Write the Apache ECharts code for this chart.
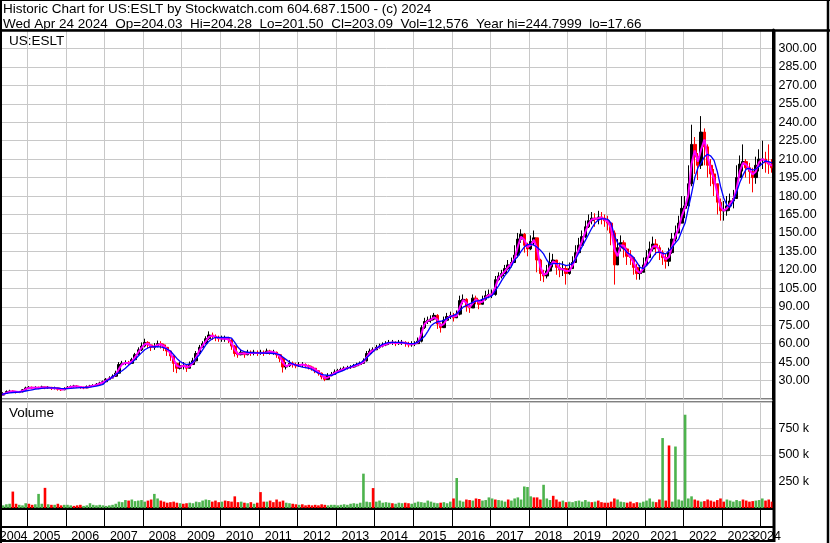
<!DOCTYPE html>
<html>
<head>
<meta charset="utf-8">
<script src="https://cdn.jsdelivr.net/npm/echarts@6/dist/echarts.min.js"></script>
<style>
  html, body { margin: 0; padding: 0; background: #fff; }
  #chart { width: 830px; height: 543px; }
</style>
</head>
<body>
<div id="chart"></div>
<script>
// monthly bars, Apr 2004 .. Apr 2024
const startYear = 2004;
const startMonth = 3; // April
const firstOpen = 17.9;

const closes = [
  18.2, 19.5, 21, 21.5, 21, 20.5, 20.8, 22.5, 24,
  24.5, 24, 24.5, 24, 24.8, 24, 24.5, 23.5, 24, 23, 22.5, 23.5,
  24.5, 25, 25.5, 25, 24.5, 24, 25, 25.5, 26, 27, 28, 29,
  31, 32, 33.5, 36, 43, 44, 44.5, 44, 47, 51, 55, 58,
  61, 59, 57, 58, 60, 59, 57, 54, 50, 44, 40, 42,
  42, 40, 43, 46, 52, 57, 60, 64, 67, 66, 65, 64,
  64, 64, 63, 58, 52, 51, 53, 51, 53, 52, 53, 52,
  53, 52, 54, 53, 53, 51, 48, 41, 42, 44, 43, 42,
  43, 43, 42, 41, 40, 38, 36, 33, 31, 34, 35, 37,
  38, 39, 40, 40.5, 41, 42, 43, 44, 46, 52, 54, 55,
  57, 58, 59, 60, 61, 61, 60, 61, 61, 60, 59, 60,
  60, 62, 73, 78, 79, 80, 83, 76, 73, 79, 82, 83,
  81, 84, 95, 96, 90, 89, 97, 95, 92, 96, 99, 100,
  100, 112, 115, 117, 121, 124, 126, 132, 145, 149, 140, 137,
  143, 146, 128, 117, 115, 119, 126, 128, 122, 120, 121, 117,
  121, 126, 134, 140, 147, 155, 160, 162, 161, 163, 162, 160,
  158, 150, 124, 138, 142, 137, 131, 130, 122, 117, 118, 124,
  130, 137, 141, 138, 134, 130, 127, 134, 145, 150, 158, 170,
  172, 190, 222, 212, 205, 232, 220, 205, 198, 190, 175, 168,
  168, 172, 176, 178, 195, 206, 208, 203, 200, 195, 205, 210,
  210, 207, 206, 203
];

const lows = [
  17.7, 18, 19.5, 20.5, 20, 19.5, 19.8, 20.5, 22,
  23, 23, 23.2, 23, 23.5, 23, 23.2, 22.3, 22.8, 21.8, 21.5, 22.2,
  23.2, 24, 24.3, 24, 23.3, 23, 23.8, 24.5, 25, 25.8, 26.8, 27.8,
  29, 30.5, 32, 33, 35.5, 42, 42.5, 42, 44, 47.5, 51, 54,
  57, 56, 54, 55, 57, 56, 54, 50, 46, 37, 36, 39,
  39, 37, 40, 43, 45.5, 51, 57, 61, 63, 63, 62, 61.5,
  61.5, 61.5, 60.5, 55, 49.5, 48.5, 50.5, 48.5, 50.5, 50, 50.5, 50,
  51, 50, 51.5, 51, 51, 48.5, 45, 36.5, 39, 41, 40.5, 40,
  41, 41, 40, 39, 38, 36, 34, 31, 29.5, 32, 33.5, 35,
  36.5, 37.5, 38.5, 39, 39.5, 40.5, 41.5, 42.5, 44, 45.5, 52, 53,
  55, 56, 57, 58, 59, 59, 58, 59, 59, 57.5, 57, 57.5,
  58, 60, 61, 72, 76, 77, 79, 72, 69, 75, 79, 80,
  78, 81, 83, 92, 86, 85, 92, 92, 88, 92, 95, 97,
  97, 99, 111, 113, 117, 120, 122, 127, 130, 142, 134, 131,
  136, 140, 118, 111, 110, 113, 120, 122, 116, 114, 115, 108,
  116, 121, 128, 134, 140, 146, 154, 157, 155, 157, 157, 155,
  152, 140, 108, 125, 135, 130, 124, 124, 116, 112, 112, 118,
  123, 130, 135, 132, 128, 124, 121, 123, 133, 143, 150, 158,
  162, 170, 188, 198, 193, 202, 205, 195, 188, 180, 165, 160,
  160, 164, 168, 170, 178, 195, 200, 195, 190, 183, 190, 200,
  202, 199, 198, 199
];

const highs = [
  19, 20.5, 22, 22.5, 22, 21.5, 21.5, 23, 25,
  25.5, 25.2, 25.3, 25, 25.8, 25, 25.5, 24.8, 25, 24.2, 23.5, 24.5,
  25.5, 26, 26.5, 26.2, 25.5, 25, 26, 26.5, 27, 28, 29, 30,
  32, 33.5, 35, 38, 45, 46, 46.5, 46, 48.5, 52.5, 57, 61,
  64, 62, 59.5, 60.5, 62.5, 62, 60, 57, 53, 50, 44.5, 45,
  45, 43, 45.5, 48.5, 54, 59, 62, 66, 70, 69, 67.5, 66.5,
  66.5, 66.5, 65.5, 64, 59, 53.5, 55, 53.5, 55, 54.5, 55, 54.5,
  55, 54.5, 56, 55, 55, 53.5, 51, 49, 45, 46.5, 45.5, 44.5,
  45, 45, 44, 43, 42, 40, 38, 36.5, 33, 36, 37, 39,
  39.5, 40.5, 41.5, 42, 42.5, 43.5, 44.5, 45.5, 48, 54, 56, 57,
  59, 60, 61, 62, 63, 63, 62, 63, 63, 62, 61.5, 62,
  62, 65, 75, 81, 82, 83, 85, 84, 77, 82, 85, 86,
  85, 87, 99, 100, 97, 92, 100, 99, 96, 99, 103, 104,
  104, 115, 118, 120, 124, 128, 130, 140, 150, 153, 150, 142,
  148, 152, 146, 129, 120, 124, 134, 133, 128, 126, 127, 124,
  126, 131, 140, 146, 152, 160, 165, 167, 166, 168, 167, 165,
  164, 158, 152, 145, 148, 144, 138, 136, 130, 125, 124, 130,
  136, 143, 147, 145, 140, 136, 133, 138, 150, 156, 164, 180,
  180, 205, 238, 228, 215, 245, 235, 222, 210, 202, 190, 178,
  176, 180, 182, 185, 205, 213, 222, 210, 207, 203, 212, 218,
  225, 216, 222, 210
];

// short (magenta) and long (blue) moving averages as drawn
const maShort = [
  18, 18.8, 20, 21, 21.2, 21, 20.7, 21.5, 23,
  24, 24.2, 24.2, 24.2, 24.4, 24.4, 24.3, 24, 23.8, 23.5, 22.8, 23,
  24, 24.7, 25.2, 25.2, 24.8, 24.3, 24.5, 25.2, 25.7, 26.5, 27.5, 28.5,
  30, 31.5, 32.7, 34.7, 39.5, 43.5, 44.2, 44.2, 45.5, 49, 53, 56.5,
  59.5, 60, 58, 57.5, 59, 59.5, 58, 55.5, 52, 47, 42, 41,
  42, 41, 41.5, 44.5, 49, 54.5, 58.5, 62, 65.5, 66.5, 65.5, 64.5,
  64, 64, 63.5, 60.5, 55, 51.5, 52, 52, 52, 52.5, 52.5, 52.5,
  52.5, 52.5, 53, 53.5, 53, 52, 49.5, 44.5, 41.5, 43, 43.5, 42.5,
  42.5, 43, 42.5, 41.5, 40.5, 39, 37, 34.5, 32, 32.5, 34.5, 36,
  37.5, 38.5, 39.5, 40.2, 40.7, 41.5, 42.5, 43.5, 45, 49, 53, 54.5,
  56, 57.5, 58.5, 59.5, 60.5, 61, 60.5, 60.5, 61, 60.5, 59.5, 59.5,
  60, 61, 68, 76, 78.5, 79.5, 81.5, 79.5, 74.5, 76, 80.5, 82.5,
  82, 82.5, 90, 95.5, 93, 89.5, 93, 96, 93.5, 94, 97.5, 99.5,
  100, 106, 113.5, 116, 119, 122.5, 125, 129, 139, 147, 144.5, 138.5,
  140, 144.5, 137, 122.5, 116, 117, 122.5, 127, 125, 121, 120.5, 119,
  119, 123.5, 130, 137, 143.5, 151, 157.5, 161, 161.5, 162, 162.5, 161,
  159, 154, 137, 131, 140, 139.5, 134, 130.5, 126, 119.5, 117.5, 121,
  127, 133.5, 139, 139.5, 136, 132, 128.5, 130.5, 139.5, 147.5, 154, 164,
  171, 181, 206, 217, 208, 218, 226, 212, 201.5, 194, 182.5, 171.5,
  168, 170, 174, 177, 186, 200, 207, 205.5, 201.5, 197.5, 200, 207.5,
  210, 208.5, 206.5, 204.5
];

const maLong = [
  18.5, 19, 19.5, 20, 20.3, 20.5, 20.7, 21, 21.5,
  22, 22.5, 23, 23.3, 23.6, 23.8, 24, 24, 24, 23.8, 23.6, 23.5,
  23.5, 23.6, 23.8, 24, 24.2, 24.3, 24.5, 24.7, 25, 25.5, 26, 26.8,
  29.5, 31, 33, 35, 36.5, 38, 40, 42.5, 44.5, 47, 50, 52.5,
  55, 56.5, 57.3, 57.5, 57.5, 57.3, 56.5, 55.5, 54, 51, 48, 45.5,
  44, 43, 43.5, 45, 48, 51, 55, 59, 62, 64, 65, 65,
  65, 65, 65, 64.5, 61, 57, 54.5, 53.5, 53, 52.8, 52.6, 52.5,
  52.4, 52.4, 52.3, 52.2, 52, 51.7, 51, 49, 47, 45, 43.5, 42.5,
  41.7, 41, 40.5, 40, 39, 37.5, 36, 35, 34.5, 34.2, 34.3, 35,
  36.5, 37.5, 38.5, 40, 41, 42.3, 43.3, 44.3, 46, 48.5, 51, 53.5,
  56, 58, 59.5, 60.5, 60.8, 61, 61, 61, 60.8, 60.5, 60.2, 60,
  60.2, 61.5, 63.5, 66, 70, 74.5, 76.5, 77.8, 78.2, 79, 80.5, 81.7,
  83, 84.3, 87, 89.7, 91, 92.3, 93.5, 94.5, 95, 96, 97, 97.7,
  99, 103, 107, 111.5, 115.5, 118.5, 123, 128, 131, 135, 138.5, 140.5,
  141, 140, 138.4, 136, 133, 128, 124.5, 125, 125, 125, 124.5, 123.5,
  124, 125, 129, 134, 139, 144, 149, 154, 158, 160.5, 161.4, 161.5,
  161, 158, 148, 142, 139, 137, 134, 132.5, 130, 126, 122, 121,
  123.5, 126.5, 130.5, 134, 134.5, 133.5, 133, 135.5, 138.4, 142, 145, 152,
  158, 170, 182, 195, 203, 207, 212, 214, 212.5, 209, 200, 188,
  178.5, 172.5, 171, 176, 183, 191, 197, 202, 202.5, 201, 202, 204,
  206.5, 208.5, 208, 207
];

// volume in thousands, and direction of each bar (g = up, r = down)
const volumes = [
  30, 25, 35, 40, 155, 40, 30, 25, 45,
  40, 30, 35, 133, 40, 190, 35, 30, 30, 40, 25, 30,
  30, 25, 20, 25, 30, 20, 25, 45, 30, 25, 30, 25,
  20, 25, 30, 40, 60, 55, 75, 70, 80, 65, 70, 75,
  60, 70, 80, 133, 90, 70, 60, 50, 55, 60, 50, 45,
  40, 45, 50, 45, 60, 55, 70, 80, 75, 60, 70, 55,
  60, 70, 65, 60, 110, 55, 60, 50, 45, 55, 40, 50,
  150, 60, 60, 70, 55, 80, 60, 70, 50, 45, 40, 35,
  30, 35, 25, 30, 25, 30, 25, 35, 30, 25, 30, 30,
  25, 30, 35, 30, 40, 45, 40, 50, 324, 60, 55, 188,
  60, 70, 50, 55, 50, 45, 40, 50, 45, 50, 45, 40,
  50, 60, 55, 50, 70, 60, 50, 45, 50, 55, 45, 60,
  90, 283, 70, 60, 80, 75, 70, 90, 85, 70, 75, 100,
  90, 80, 75, 70, 60, 80, 70, 90, 100, 80, 203, 198,
  110, 100, 100, 80, 219, 90, 75, 115, 80, 60, 70, 55,
  60, 55, 65, 70, 60, 75, 60, 55, 60, 70, 55, 50,
  50, 60, 90, 80, 60, 55, 50, 60, 45, 55, 50, 60,
  70, 90, 60, 55, 80, 660, 70, 590, 60, 580, 80, 70,
  880, 90, 110, 80, 70, 60, 65, 80, 70, 60, 75, 90,
  60, 80, 70, 60, 75, 65, 80, 70, 60, 65, 70, 75,
  90, 70, 80, 60
];

const volDir = [
  'ggggrrggg',
  'rrgggrgrgrrg',
  'ggrrrggggggg',
  'gggggggrgggg',
  'grrggrrrrrrg',
  'rrgggggggrrr',
  'grrrrrgrgrgr',
  'rrgrrrrrggrr',
  'grrrrrrrrggg',
  'gggggggggggr',
  'gggggrgggrrg',
  'ggggggggrggg',
  'rgggrrgrrggg',
  'grgggrgggggg',
  'grrrgggrrrgr',
  'gggggggrgrrr',
  'rrrgggrrrrgg',
  'gggrrgrrgggg',
  'gggrrgrrrrrr',
  'rgggggrrrrgg',
  'grrr'
].join('');

const headerLine1 = 'Historic Chart for US:ESLT by Stockwatch.com 604.687.1500 - (c) 2024';
const headerLine2 = 'Wed Apr 24 2024  Op=204.03  Hi=204.28  Lo=201.50  Cl=203.09  Vol=12,576  Year hi=244.7999  lo=17.66';

// x axis in decimal years
const xMin = 2004, xMax = 2024.33;
const gridLeft = -11.3, pxPerYear = 38.6;
const gridWidth = (xMax - xMin) * pxPerYear;
const visLeft = xMin - gridLeft / pxPerYear;

const n = Math.min(closes.length, lows.length, highs.length, maShort.length, maLong.length, volumes.length);
const xs = [];
for (let i = 0; i < n; i++) xs.push(startYear + (startMonth + i + 0.5) / 12);

const candles = xs.map((x, i) => [x, i ? closes[i - 1] : firstOpen, closes[i], lows[i], highs[i]]);
const shortLine = xs.map((x, i) => [x, maShort[i]]);
const longLine = xs.map((x, i) => [x, maLong[i]]);
const volBars = xs.map((x, i) => ({
  value: [x, volumes[i]],
  itemStyle: { color: volDir[i] === 'r' ? '#ff0000' : '#4db34d' }
}));

// year labels centred in the visible part of each year
const yearLabelPos = [];
for (let y = 2004; y <= 2024; y++) {
  const a = Math.max(y, visLeft), b = Math.min(y + 1, xMax);
  yearLabelPos.push((a + b) / 2);
}
// the last (partial) year overlaps its neighbour, so it gets its own axis
const lastYearPos = yearLabelPos.slice(-1);
const otherYearPos = yearLabelPos.slice(0, -1);

const font = "'Liberation Sans', Arial, sans-serif";
const txt = { fontFamily: font, fontSize: 13.5, fontWeight: 'normal', color: '#000', lineHeight: 15 };
const grey = { color: '#c8c8c8', width: 1 };

function yearAxis(positions, withLine) {
  return {
    gridIndex: 1, type: 'value', min: xMin, max: xMax, position: 'bottom', offset: 19,
    axisTick: { show: false }, splitLine: { show: false },
    axisLine: { show: withLine, onZero: false, lineStyle: { color: '#000', width: 2 } },
    axisLabel: { customValues: positions, margin: 3, color: '#000', fontSize: 12.5, fontFamily: font,
      hideOverlap: false, formatter: v => String(Math.floor(v + 1e-6)) }
  };
}

const chart = echarts.init(document.getElementById('chart'));
chart.setOption({
  animation: false,
  backgroundColor: '#fff',
  textStyle: { fontFamily: font },
  title: [
    { text: headerLine1, subtext: headerLine2, left: 3, top: 2, padding: 0, itemGap: 0,
      textStyle: txt, subtextStyle: txt },
    { text: 'US:ESLT', left: 9, top: 34, padding: 0, textStyle: txt },
    { text: 'Volume', left: 9, top: 406, padding: 0, textStyle: txt }
  ],
  grid: [
    { left: gridLeft, top: 30, width: gridWidth, height: 369, show: true, borderColor: '#000', borderWidth: 1,
      containLabel: false, outerBoundsMode: 'none' },
    { left: gridLeft, top: 402, width: gridWidth, height: 106, show: true, borderColor: '#000', borderWidth: 1,
      containLabel: false, outerBoundsMode: 'none' }
  ],
  xAxis: [
    { gridIndex: 0, type: 'value', min: xMin, max: xMax, interval: 1,
      axisLabel: { show: false }, axisTick: { show: false }, axisLine: { show: false },
      splitLine: { show: true, lineStyle: grey } },
    { gridIndex: 1, type: 'value', min: xMin, max: xMax, interval: 1, position: 'bottom',
      axisLabel: { show: false },
      axisTick: { show: true, length: 19, lineStyle: { color: '#000', width: 1 } },
      axisLine: { show: true, onZero: false, lineStyle: { color: '#000', width: 3 } },
      splitLine: { show: true, lineStyle: grey } },
    yearAxis(otherYearPos, true),
    yearAxis(lastYearPos, false)
  ],
  yAxis: [
    { gridIndex: 0, type: 'value', position: 'right', min: 15, max: 315, interval: 15,
      axisLine: { show: true, lineStyle: { color: '#000', width: 3 } }, axisTick: { show: false },
      axisLabel: { showMinLabel: false, showMaxLabel: false, margin: 5, color: '#000', fontSize: 12.5,
        fontFamily: font, formatter: v => v.toFixed(2) },
      splitLine: { show: true, lineStyle: grey } },
    { gridIndex: 1, type: 'value', position: 'right', min: 0, max: 1000, interval: 250,
      axisLine: { show: true, lineStyle: { color: '#000', width: 3 } }, axisTick: { show: false },
      axisLabel: { showMinLabel: false, showMaxLabel: false, margin: 5, color: '#000', fontSize: 12.5,
        fontFamily: font, formatter: v => v + ' k' },
      splitLine: { show: true, lineStyle: grey } }
  ],
  series: [
    { type: 'candlestick', xAxisIndex: 0, yAxisIndex: 0, data: candles,
      encode: { x: 0, y: [1, 2, 3, 4] }, barWidth: 3,
      itemStyle: { color: '#000', color0: '#ff0000', borderColor: '#000', borderColor0: '#ff0000', borderWidth: 1 } },
    { type: 'line', xAxisIndex: 0, yAxisIndex: 0, data: shortLine, showSymbol: false,
      lineStyle: { color: '#ff00ff', width: 2 }, z: 3 },
    { type: 'line', xAxisIndex: 0, yAxisIndex: 0, data: longLine, showSymbol: false,
      lineStyle: { color: '#0000ff', width: 1.3 }, z: 4 },
    { type: 'bar', xAxisIndex: 1, yAxisIndex: 1, data: volBars, barWidth: 2.6 }
  ],
  graphic: [
    { type: 'line', z: 100, shape: { x1: 0, y1: 0.5, x2: 830, y2: 0.5 }, style: { stroke: '#000', lineWidth: 1 } },
    { type: 'line', z: 100, shape: { x1: 0, y1: 30.5, x2: 830, y2: 30.5 }, style: { stroke: '#000', lineWidth: 2.5 } },
    { type: 'line', z: 100, shape: { x1: 1, y1: 0, x2: 1, y2: 543 }, style: { stroke: '#000', lineWidth: 2 } },
    { type: 'line', z: 100, shape: { x1: 828, y1: 0, x2: 828, y2: 543 }, style: { stroke: '#000', lineWidth: 2.5 } },
    { type: 'line', z: 100, shape: { x1: 774, y1: 30, x2: 774, y2: 542 }, style: { stroke: '#000', lineWidth: 3 } },
    { type: 'line', z: 100, shape: { x1: 0, y1: 541, x2: 775, y2: 541 }, style: { stroke: '#000', lineWidth: 2 } }
  ]
});
</script>
</body>
</html>
